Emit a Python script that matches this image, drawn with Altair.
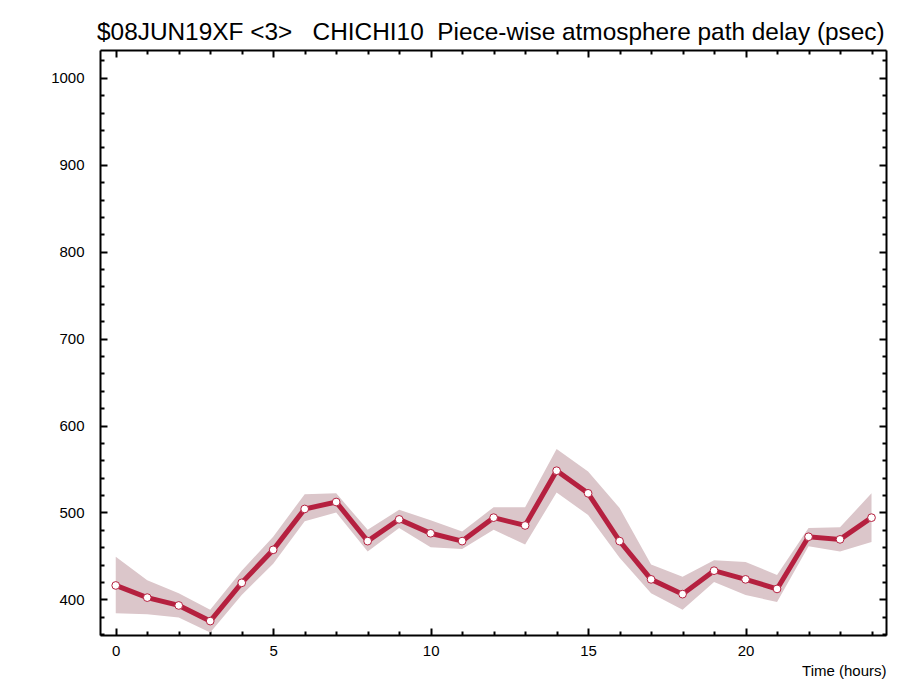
import altair as alt
import pandas as pd

hours = list(range(25))
delay = [416, 402, 393, 375, 419, 457, 504, 512, 467, 492, 476, 467, 494, 485,
         548, 522, 467, 423, 406, 433, 423, 412, 472, 469, 494]
upper = [449, 422, 407, 388, 433, 472, 521, 522, 480, 503, 491, 478, 506, 506,
         573, 547, 505, 440, 426, 445, 443, 428, 482, 483, 522]
lower = [384, 383, 379, 362, 405, 441, 490, 500, 455, 482, 460, 458, 480, 463,
         523, 497, 448, 407, 388, 420, 405, 397, 461, 455, 466]

x_major = [0, 5, 10, 15, 20]
x_minor = [h for h in range(25) if h % 5 != 0]
y_major = [400, 500, 600, 700, 800, 900, 1000]
y_minor = [v for v in range(360, 1040, 20) if v % 100 != 0]

title_text = "$08JUN19XF <3>\u00a0\u00a0 CHICHI10\u00a0 Piece-wise atmosphere path delay (psec)"

df = pd.DataFrame({"t": hours, "d": delay, "hi": upper, "lo": lower})

FONT = "Liberation Sans"
LINE = "#b5203f"
BAND = "#dbc6ca"

xs = alt.Scale(domain=[-0.5, 24.46], nice=False, zero=False)
ys = alt.Scale(domain=[359, 1032], nice=False, zero=False)


def xaxis(orient, values, size, labels=False, title=None):
    kw = dict(orient=orient, values=values, tickSize=size, offset=-size, domain=False,
              grid=False, tickWidth=2, tickColor="black", labels=labels)
    if labels:
        kw.update(labelFont=FONT, labelFontSize=15, labelColor="black", labelPadding=8)
    if title:
        kw.update(title=title, titleFont=FONT, titleFontSize=15, titleFontWeight="normal",
                  titleAnchor="end", titleAlign="right", titlePadding=5, titleColor="black")
    else:
        kw.update(title=None)
    return alt.Axis(**kw)


def yaxis(orient, values, size, labels=False):
    kw = dict(orient=orient, values=values, tickSize=size, offset=-size, domain=False,
              grid=False, tickWidth=2, tickColor="black", labels=labels, title=None)
    if labels:
        kw.update(labelFont=FONT, labelFontSize=15, labelColor="black", labelPadding=16,
                  format="d")
    return alt.Axis(**kw)


def frame_axis(orient):
    return alt.Axis(orient=orient, ticks=False, labels=False, grid=False, title=None,
                    domain=True, domainWidth=2, domainColor="black", offset=0)


base = alt.Chart(df)

band = base.mark_area(color=BAND, opacity=1).encode(
    x=alt.X("t:Q", scale=xs, axis=xaxis("bottom", x_major, 7, labels=True, title="Time (hours)")),
    y=alt.Y("lo:Q", scale=ys, axis=yaxis("left", y_major, 7, labels=True)),
    y2="hi:Q",
)

line = base.mark_line(color=LINE, strokeWidth=5).encode(
    x=alt.X("t:Q", scale=xs, axis=xaxis("top", x_major, 7)),
    y=alt.Y("d:Q", scale=ys, axis=yaxis("right", y_major, 7)),
)

pts = base.mark_point(filled=True, fill="white", stroke=LINE, strokeWidth=1, size=60, opacity=1).encode(
    x=alt.X("t:Q", scale=xs, axis=xaxis("bottom", x_minor, 4)),
    y=alt.Y("d:Q", scale=ys, axis=yaxis("left", y_minor, 4)),
)

ghost1 = base.mark_point(opacity=0).encode(
    x=alt.X("t:Q", scale=xs, axis=xaxis("top", x_minor, 4)),
    y=alt.Y("d:Q", scale=ys, axis=yaxis("right", y_minor, 4)),
)

ghost2 = base.mark_point(opacity=0).encode(
    x=alt.X("t:Q", scale=xs, axis=frame_axis("bottom")),
    y=alt.Y("d:Q", scale=ys, axis=frame_axis("left")),
)

ghost3 = base.mark_point(opacity=0).encode(
    x=alt.X("t:Q", scale=xs, axis=frame_axis("top")),
    y=alt.Y("d:Q", scale=ys, axis=frame_axis("right")),
)

chart = alt.layer(band, line, pts, ghost1, ghost2, ghost3).resolve_axis(
    x="independent", y="independent"
).properties(
    width=786,
    height=585,
    autosize=alt.AutoSizeParams(type="none"),
    padding={"left": 92, "top": 42, "right": 11, "bottom": 44},
    title=alt.TitleParams(title_text, anchor="start", frame="group", font=FONT, fontSize=24.4,
                          fontWeight="normal", color="black", offset=4, dx=-3),
).configure_view(stroke=None).configure(background="white")

chart.save("out.html", embed_options={"renderer": "svg", "actions": False})
